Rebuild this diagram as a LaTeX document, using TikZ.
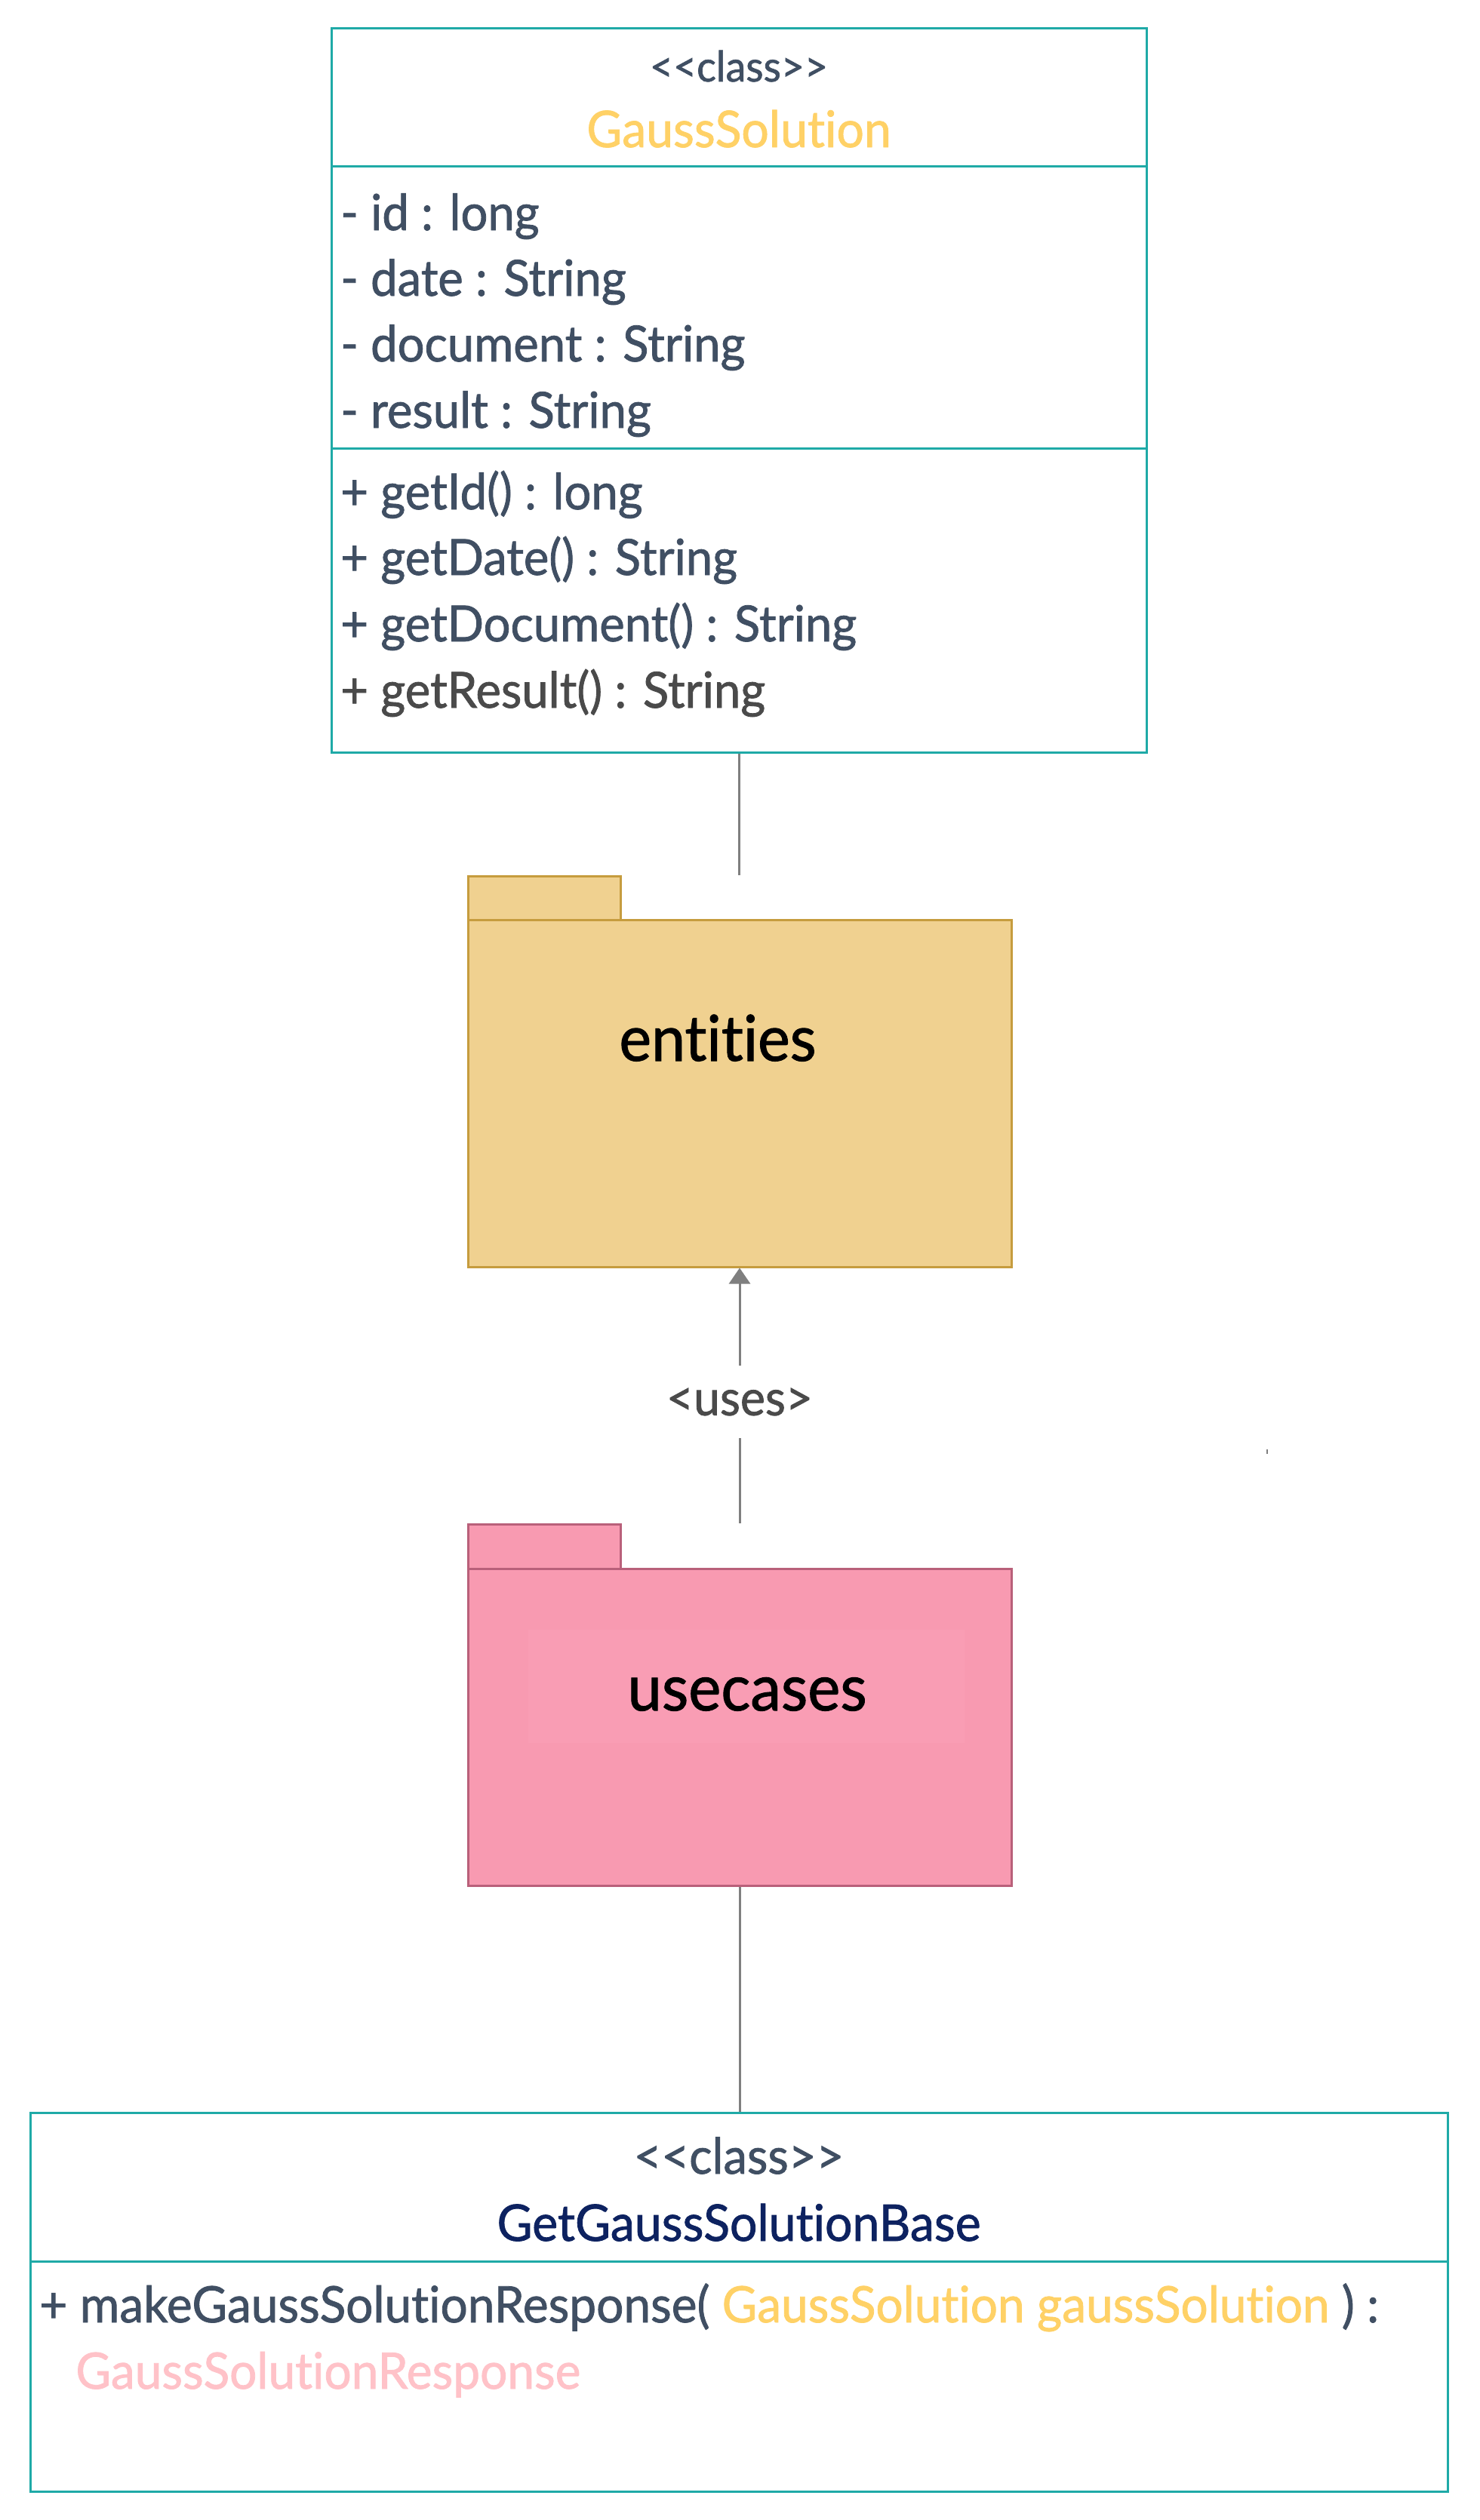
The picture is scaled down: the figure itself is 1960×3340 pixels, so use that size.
\documentclass[tikz,border=0pt]{standalone}
\usepackage{fontspec}
\setmainfont{Lato}[Ligatures={NoCommon}, FakeStretch=0.96, FakeBold=1.2]
\usetikzlibrary{arrows.meta}
\definecolor{teal}{HTML}{1FAAA7}
\definecolor{slate}{HTML}{404F63}
\definecolor{darkgr}{HTML}{4A4A4A}
\definecolor{ylw}{HTML}{FFD166}
\definecolor{navy}{HTML}{0D2260}
\definecolor{pinktxt}{HTML}{FFC2C8}
\definecolor{entfill}{HTML}{F0D190}
\definecolor{entdraw}{HTML}{C69C3E}
\definecolor{ucfill}{HTML}{F89AB1}
\definecolor{ucinner}{HTML}{F99DB4}
\definecolor{ucdraw}{HTML}{B9607A}
\definecolor{conn}{HTML}{7F7F7F}
\newcommand{\fs}[1]{\fontsize{#1}{#1}\selectfont}
\begin{document}
\begin{tikzpicture}[x=0.5pt,y=-0.5pt,
  classbox/.style={draw=teal, line width=1.5pt, fill=white, inner sep=0pt},
  divider/.style={draw=teal, line width=1.5pt},
  memb/.style={anchor=base west, inner sep=0pt, text=slate, font=\fs{33}},
  pkgent/.style={draw=entdraw, fill=entfill, line width=1.5pt, inner sep=0pt},
  pkguc/.style={draw=ucdraw, fill=ucfill, line width=1.5pt, inner sep=0pt},
  pkglabel/.style={anchor=base, inner sep=0pt, text=black, font=\fs{42}},
  connector/.style={draw=conn, line width=1.5pt}
]
\useasboundingbox (0,0) rectangle (1960,3340);

% ---------- top class ----------
\node[classbox, minimum width=540pt, minimum height=479.5pt] (gs) at (979,517.5) {};
\draw[divider] (439,220) -- (1519,220);
\draw[divider] (439,594) -- (1519,594);
\node[anchor=base, inner sep=0pt, text=slate, font=\fs{28}] (gsst) at (979,108) {<\kern0pt<class>\kern0pt>};
\node[anchor=base, inner sep=0pt, text=ylw, font=\fs{33.5}] (gsname) at (979,195) {GaussSolution};
\node[memb] (a1) at (451,305) {- id : long};
\node[memb] (a2) at (451,392) {- date : String};
\node[memb] (a3) at (451,479) {- document : String};
\node[memb] (a4) at (451,567) {- result : String};
\node[memb] (m1) at (451,675) {+ getId() : long};
\node[memb] (m2) at (451,762) {+ getDate() : String};
\node[memb] (m3) at (451,850) {+ getDocument() : String};
\node[memb, text=darkgr] (m4) at (451,938) {+ getResult() : String};

% ---------- entities package ----------
\node[pkgent, minimum width=101pt, minimum height=29pt] (enttab) at (721,1190) {};
\node[pkgent, minimum width=360pt, minimum height=230pt] (ent) at (980,1449) {};
\node[pkglabel] (entlbl) at (951,1406) {entities};

% ---------- usecases package ----------
\node[pkguc, minimum width=101pt, minimum height=29.5pt] (uctab) at (721,2049.5) {};
\node[pkguc, minimum width=360pt, minimum height=210pt] (uc) at (980,2289) {};
\fill[ucinner] (700,2160) rectangle (1278,2310);
\node[pkglabel, font=\fs{42.5}] (uclbl) at (990,2267) {usecases};

% ---------- bottom class ----------
\node[classbox, minimum width=939pt, minimum height=251pt] (gsb) at (979,3051) {};
\draw[divider] (40,2997) -- (1918,2997);
\node[anchor=base, inner sep=0pt, text=slate, font=\fs{33}] (gsbst) at (979,2881) {<\kern0pt<class>\kern0pt>};
\node[anchor=base, inner sep=0pt, text=navy, font=\fs{33.5}] (gsbname) at (979,2970) {GetGaussSolutionBase};
\node[memb, font=\fs{33.3}] (bm1) at (52,3078) {+ makeGaussSolutionResponse( \textcolor{ylw}{GaussSolution gaussSolution} ) :};
\node[memb, font=\fs{33.3}, text=pinktxt] (bm2) at (100,3166) {GaussSolutionResponse};

% ---------- connectors ----------
\draw[connector] (gs.south) -- (gs.south |- enttab.north);
\draw[connector, -{Triangle[length=10.5pt, width=14pt]}, conn]
  (uctab.north -| ent.south) -- node[pos=0.475, fill=white, inner xsep=4pt, inner ysep=15pt, text=darkgr, font=\fs{32.5}] (uses) {<uses>} (ent.south);
\draw[connector] (uc.south) -- (uc.south |- gsb.north);

% stray dot
\fill[conn] (1678,1921) rectangle (1680,1927);
\end{tikzpicture}
\end{document}
